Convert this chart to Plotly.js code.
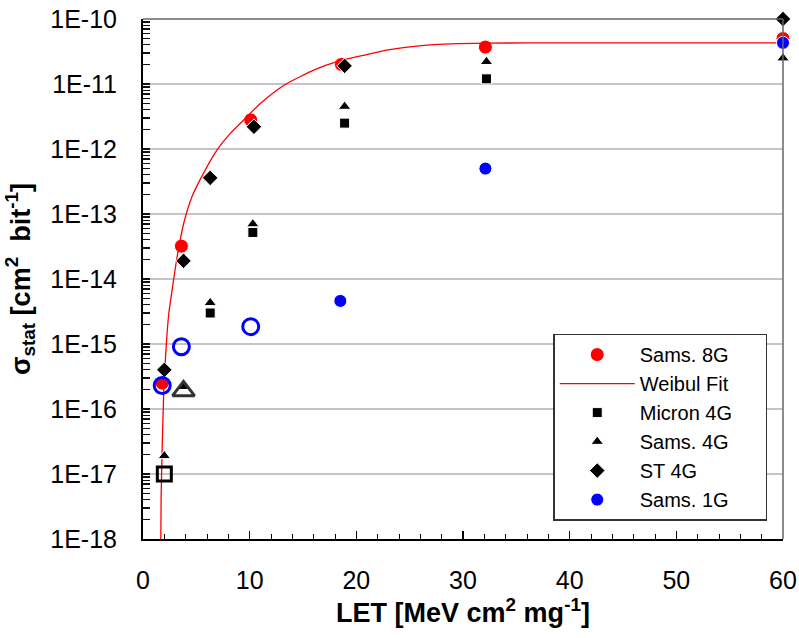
<!DOCTYPE html>
<html>
<head>
<meta charset="utf-8">
<script src="https://cdn.plot.ly/plotly-3.0.1.min.js"></script>
<style>html,body{margin:0;padding:0;background:#fff;}#chart{width:799px;height:638px;}</style>
</head>
<body>
<div id="chart"></div>
<script>
// ---- data ----
const sams8gX = [1.8, 3.6, 10.1, 18.6, 32.1, 60];
const sams8gY = [2.5e-16, 3.2e-14, 2.8e-12, 2.0e-11, 3.7e-11, 5.0e-11];

const fitX = [1.67, 1.70, 1.80, 1.95, 2.17, 2.42, 2.73, 3.20, 3.82, 4.6, 5.69, 6.95, 8.19, 9.44, 11.0, 12.57, 13.5, 16.0, 18.2, 22.2, 24.6, 26.9, 32, 40, 50, 60];
const fitY = [1.0e-18, 4.5e-18, 2.6e-17, 1.95e-16, 9.1e-16, 2.95e-15, 6.8e-15, 2.2e-14, 7.2e-14, 1.86e-13, 4.3e-13, 9.7e-13, 1.74e-12, 2.8e-12, 5.0e-12, 8.1e-12, 1.02e-11, 1.64e-11, 2.2e-11, 3.16e-11, 3.65e-11, 4.0e-11, 4.25e-11, 4.3e-11, 4.3e-11, 4.3e-11];

const micronX = [6.3, 10.3, 18.9, 32.2];
const micronY = [3.0e-15, 5.2e-14, 2.5e-12, 1.2e-11];
const micronOpenX = [2.0];
const micronOpenY = [1.0e-17];

const sams4gX = [2.0, 3.8, 6.3, 10.3, 18.9, 32.2, 60];
const sams4gY = [1.9e-17, 2.2e-16, 4.3e-15, 7.0e-14, 4.5e-12, 2.2e-11, 2.5e-11];
const sams4gOpenX = [3.8];
const sams4gOpenY = [1.9e-16];

const st4gX = [2.0, 3.8, 6.3, 10.4, 18.9, 60];
const st4gY = [4.0e-16, 1.9e-14, 3.6e-13, 2.2e-12, 1.9e-11, 1.0e-10];

const sams1gX = [18.5, 32.1, 60];
const sams1gY = [4.6e-15, 5.0e-13, 4.3e-11];
const sams1gOpenX = [1.8, 3.6, 10.1];
const sams1gOpenY = [2.3e-16, 9.1e-16, 1.85e-15];

const yDecades = [-18, -17, -16, -15, -14, -13, -12, -11, -10];
const yTickText = ['1E-18', '1E-17', '1E-16', '1E-15', '1E-14', '1E-13', '1E-12', '1E-11', '1E-10'];

// axis tick positions built from the decades (labelled decades + unlabelled 2..9 sub-ticks)
const yAllVals = [], yAllText = [];
yDecades.forEach((e, i) => {
  yAllVals.push(Math.pow(10, e)); yAllText.push(yTickText[i]);
  if (i < yDecades.length - 1) for (let k = 2; k <= 9; k++) { yAllVals.push(k * Math.pow(10, e)); yAllText.push(''); }
});
const gridShapes = yDecades.slice(1, -1).map(e => ({
  type: 'line', xref: 'paper', yref: 'y', x0: 0, x1: 1, y0: Math.pow(10, e), y1: Math.pow(10, e),
  layer: 'below', line: {color: '#8c8c8c', width: 1.2}
}));

const FONT = 'Arial, "Liberation Sans", sans-serif';
const wl = {color: '#ffffff', width: 1};
const NB = '\u00a0';

const traces = [
  {x: sams8gX, y: sams8gY, name: 'Sams. 8G', type: 'scatter', mode: 'markers', cliponaxis: false,
   marker: {symbol: 'circle', size: 14, color: '#ff0000', line: wl}},
  {x: fitX, y: fitY, name: 'Weibul Fit', type: 'scatter', mode: 'lines',
   line: {color: '#ff0000', width: 1.3, shape: 'spline', smoothing: 0.5}},
  {x: micronX, y: micronY, name: 'Micron 4G' + NB.repeat(5), type: 'scatter', mode: 'markers', cliponaxis: false, legendgroup: 'mic',
   marker: {symbol: 'square', size: 10, color: '#000000', line: wl}},
  {x: micronOpenX, y: micronOpenY, name: 'Micron 4G', showlegend: false, legendgroup: 'mic', type: 'scatter', mode: 'markers', cliponaxis: false,
   marker: {symbol: 'square-open', size: 14, color: '#000000', line: {color: '#000000', width: 3}}},
  {x: sams4gX, y: sams4gY, name: 'Sams. 4G', type: 'scatter', mode: 'markers', cliponaxis: false, legendgroup: 's4',
   marker: {symbol: 'triangle-up', size: 11, color: '#000000', line: wl}},
  {x: sams4gOpenX, y: sams4gOpenY, name: 'Sams. 4G', showlegend: false, legendgroup: 's4', type: 'scatter', mode: 'markers', cliponaxis: false,
   marker: {symbol: 'triangle-up-open', size: 19, color: '#333333', line: {color: '#333333', width: 3}}},
  {x: st4gX, y: st4gY, name: 'ST 4G', type: 'scatter', mode: 'markers', cliponaxis: false,
   marker: {symbol: 'diamond', size: 12, color: '#000000', line: wl}},
  {x: sams1gX, y: sams1gY, name: 'Sams. 1G', type: 'scatter', mode: 'markers', cliponaxis: false, legendgroup: 's1',
   marker: {symbol: 'circle', size: 13, color: '#0000ff', line: wl}},
  {x: sams1gOpenX, y: sams1gOpenY, name: 'Sams. 1G', showlegend: false, legendgroup: 's1', type: 'scatter', mode: 'markers', cliponaxis: false,
   marker: {symbol: 'circle-open', size: 16, color: '#0000ff', line: {color: '#0000ff', width: 3}}}
];

const layout = {
  width: 799, height: 638,
  margin: {l: 142.5, r: 16, t: 19, b: 99, pad: 0},
  paper_bgcolor: '#ffffff', plot_bgcolor: '#ffffff',
  font: {family: FONT, color: '#000000', size: 25},
  showlegend: true,
  legend: {x: 0.641, y: 0.395, xanchor: 'left', yanchor: 'top',
           bgcolor: '#ffffff', bordercolor: '#333333', borderwidth: 1.5,
           font: {family: FONT, size: 20, color: '#000000'}, itemwidth: 75, tracegroupgap: 0},
  xaxis: {
    range: [0, 60], tickmode: 'linear', tick0: 0, dtick: 10,
    ticks: 'inside', ticklen: 8, tickwidth: 1.3, tickcolor: '#000000',
    minor: {ticks: 'inside', ticklen: 5, tickwidth: 1, tickcolor: '#000000', dtick: 2, showgrid: false},
    showline: true, linecolor: '#000000', linewidth: 2,
    showgrid: false, zeroline: false,
    tickfont: {family: FONT, size: 25, color: '#000000'}, ticklabelstandoff: 18,
    title: {text: '<b>LET [MeV cm<sup>2</sup> mg<sup>-1</sup>]</b>', font: {family: FONT, size: 27, color: '#000000'}, standoff: 10}
  },
  yaxis: {
    type: 'log', range: [-18, -10],
    tickmode: 'array', tickvals: yAllVals, ticktext: yAllText,
    ticks: 'inside', ticklen: 7, tickwidth: 1.2, tickcolor: '#111111',
    showline: true, linecolor: '#000000', linewidth: 2,
    showgrid: false, zeroline: false,
    tickfont: {family: FONT, size: 25, color: '#000000'}, ticklabelstandoff: 19,
    title: {text: '<b>σ<sub>stat</sub> [cm<sup>2</sup>  bit<sup>-1</sup>]</b>', font: {family: FONT, size: 27, color: '#000000'}, standoff: 12}
  },
  shapes: gridShapes.concat([
    {type: 'line', xref: 'paper', yref: 'paper', x0: 0, x1: 1, y0: 1, y1: 1, line: {color: '#666666', width: 1.5}},
    {type: 'line', xref: 'paper', yref: 'paper', x0: 1, x1: 1, y0: 0, y1: 1, line: {color: '#666666', width: 1.5}}
  ])
};

Plotly.newPlot('chart', traces, layout, {displayModeBar: false, staticPlot: true});
</script>
</body>
</html>
